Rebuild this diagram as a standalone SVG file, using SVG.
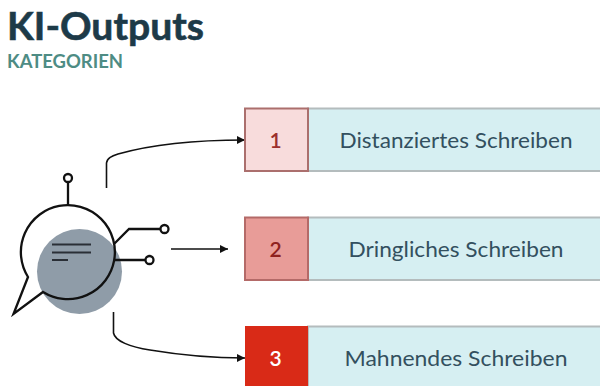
<svg xmlns="http://www.w3.org/2000/svg" width="600" height="386" viewBox="0 0 600 386">
<defs>
<marker id="arrow" markerUnits="userSpaceOnUse" markerWidth="8" markerHeight="9" refX="8" refY="4.500" orient="auto"><path d="M0 0.500L8 4.500L0 8.500Z" fill="#111"/></marker>
</defs>
<style>
text{font-family:"Lato","Open Sans",sans-serif}
.lab{font-size:21.500px;fill:#33505f;text-anchor:middle}
.num{font-size:21px;font-weight:600;text-anchor:middle}
.body{fill:#d6eff2;stroke:#b4bcbd;stroke-width:2}
.ic{fill:none;stroke:#111;stroke-width:2.300}
.ring{fill:#fff;stroke:#111;stroke-width:2.300}
.conn{fill:none;stroke:#111;stroke-width:1.600;marker-end:url(#arrow)}
</style>
<rect width="600" height="386" fill="#fff"/>
<g id="title">
<text x="7" y="39.500" font-size="39" font-weight="700" fill="#1d3a48" stroke="#1d3a48" stroke-width="0.600" textLength="197" lengthAdjust="spacingAndGlyphs">KI-Outputs</text>
<text x="7" y="68" font-size="19" font-weight="700" fill="#4e8c84" textLength="116" lengthAdjust="spacingAndGlyphs">KATEGORIEN</text>
</g>
<g id="icon">
<circle cx="79.500" cy="271.500" r="42.500" fill="#8f9ca8"/>
<path class="ic" d="M28 277A47 47 0 1 1 43 292L13.500 314Z"/>
<path class="ic" d="M68 205V183M114 244L129 229H160M115 260H145"/>
<circle class="ring" cx="68" cy="178" r="4"/>
<circle class="ring" cx="164.500" cy="229" r="4"/>
<circle class="ring" cx="149.500" cy="260" r="4"/>
<path d="M52 244.500H91M52 252.500H91M52 260H68" fill="none" stroke="#2a2f36" stroke-width="2"/>
</g>
<g id="connectors">
<path class="conn" d="M106.500 188V163C107 158 112 156 118 154C150 145 195 140 245 140"/>
<path class="conn" d="M171 249H228"/>
<path class="conn" d="M113.500 312V333C115 341 130 347 150 350C180 355 210 358 245 358"/>
</g>
<g id="node1">
<rect class="body" x="308" y="108.500" width="294" height="62.500"/>
<rect x="245" y="108.500" width="63" height="62.500" fill="#f8dcdc" stroke="#ab6f6d" stroke-width="2"/>
<text class="num" x="275.500" y="148" fill="#9c2f2d">1</text>
<text class="lab" x="456" y="147.500" textLength="233" lengthAdjust="spacingAndGlyphs">Distanziertes Schreiben</text>
</g>
<g id="node2">
<rect class="body" x="308" y="217.500" width="294" height="62.500"/>
<rect x="245" y="217.500" width="63" height="62.500" fill="#e89c98" stroke="#b46a68" stroke-width="2"/>
<text class="num" x="275.500" y="257" fill="#8f2220">2</text>
<text class="lab" x="456" y="256.500" textLength="215" lengthAdjust="spacingAndGlyphs">Dringliches Schreiben</text>
</g>
<g id="node3">
<rect class="body" x="308" y="326.500" width="294" height="62"/>
<rect x="245" y="326" width="63" height="63" fill="#d92a17"/>
<text class="num" x="275.500" y="366" fill="#fff">3</text>
<text class="lab" x="456" y="365.500" textLength="223" lengthAdjust="spacingAndGlyphs">Mahnendes Schreiben</text>
</g>
</svg>
